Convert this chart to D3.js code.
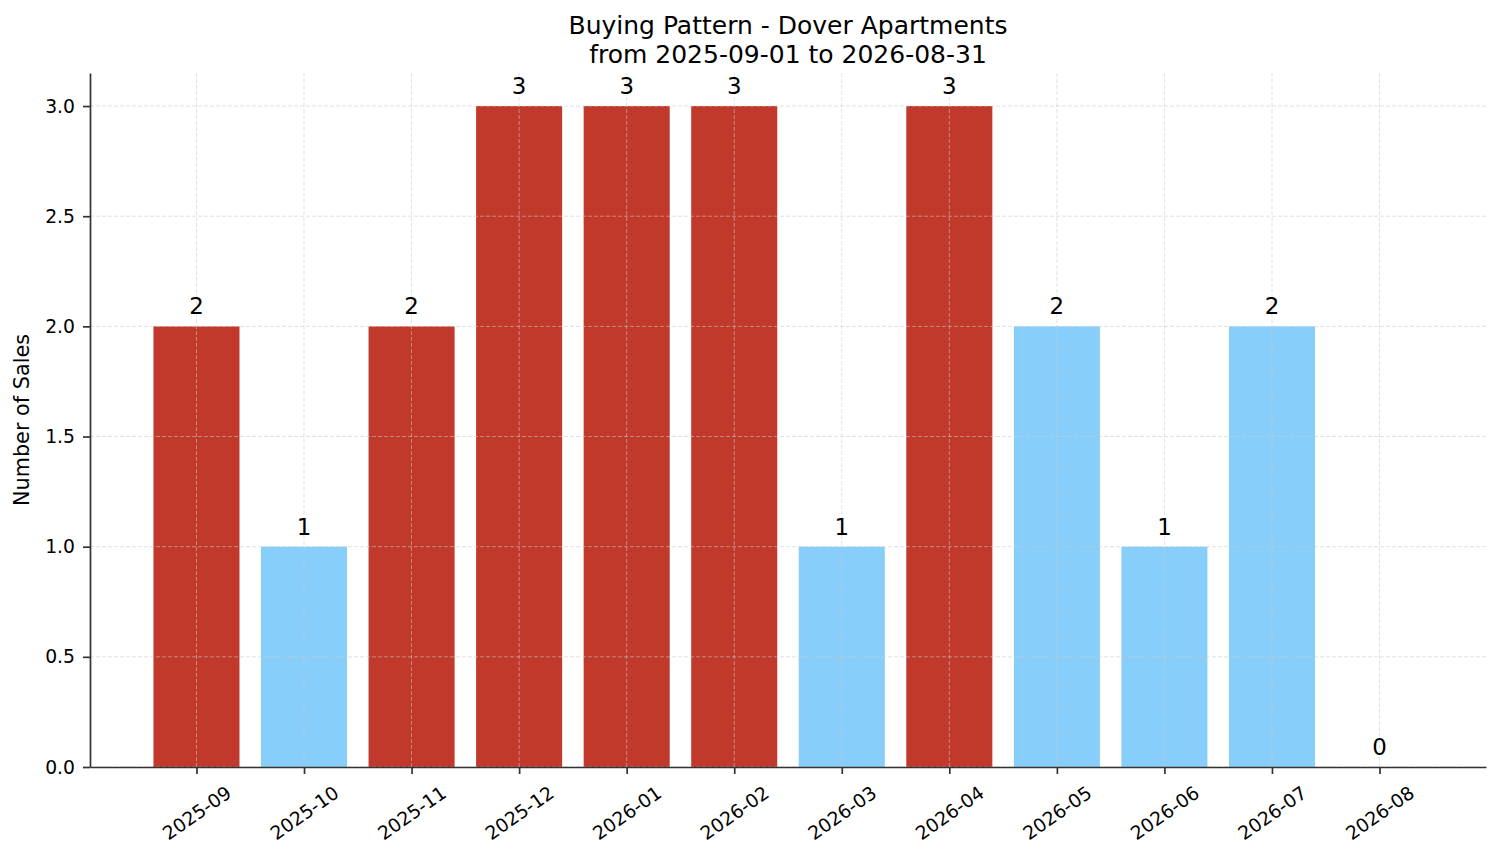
<!DOCTYPE html>
<html>
<head>
<meta charset="utf-8">
<script src="https://cdn.jsdelivr.net/npm/d3@7"></script>
<style>
  body { margin: 0; background: #fff; }
  text { font-family: "DejaVu Sans", sans-serif; fill: #000; }
</style>
</head>
<body>
<div id="chart"></div>
<script>
var months = [
  "2025-09", "2025-10", "2025-11", "2025-12", "2026-01", "2026-02",
  "2026-03", "2026-04", "2026-05", "2026-06", "2026-07", "2026-08",
];
var sales = [2, 1, 2, 3, 3, 3, 1, 3, 2, 1, 2, 0];
// which months are drawn in the highlight colour
var highlighted = [true, false, true, true, true, true, false, true, false, false, false, false];
var yTicks = [0, 0.5, 1, 1.5, 2, 2.5, 3];
var titleLines = ["Buying Pattern - Dover Apartments", "from 2025-09-01 to 2026-08-31"];

function BarChart(params) {
  var attrs = Object.assign(
    {
      width: 1501,
      height: 863,
      margin: { top: 73, left: 90, bottom: 96, right: 15 },
      container: "#chart",
      highColor: "#c0392b",
      lowColor: "#87cefa",
      spineColor: "#333333",
      gridColor: "#cccccc",
    },
    params
  );

  var svg, chart, x, y, chartWidth, chartHeight;

  function main() {
    chartWidth = attrs.width - attrs.margin.left - attrs.margin.right;
    chartHeight = attrs.height - attrs.margin.top - attrs.margin.bottom;

    svg = d3
      .select(attrs.container)
      .append("svg")
      .attr("width", attrs.width)
      .attr("height", attrs.height);

    chart = svg
      .append("g")
      .attr("transform", `translate(${attrs.margin.left}, ${attrs.margin.top})`);

    // bars are 0.8 wide, with 5% padding like matplotlib
    var lo = -0.4, hi = months.length - 1 + 0.4, pad = (hi - lo) * 0.05;
    x = d3.scaleLinear().domain([lo - pad, hi + pad]).range([0, chartWidth]);
    y = d3.scaleLinear().domain([0, d3.max(sales) * 1.05]).range([chartHeight, 0]);

    drawBars();
    drawGrid();
    drawAxes();
    drawTexts();
  }

  function drawBars() {
    chart
      .selectAll("rect.bar")
      .data(sales)
      .join("rect")
      .attr("class", "bar")
      .attr("x", (d, i) => x(i - 0.4))
      .attr("width", x(0.8) - x(0))
      .attr("y", (d) => y(d))
      .attr("height", (d) => y(0) - y(d))
      .attr("fill", (d, i) => (highlighted[i] ? attrs.highColor : attrs.lowColor));
  }

  function drawGrid() {
    var grid = chart.append("g").attr("class", "grid");

    grid
      .selectAll("line.h")
      .data(yTicks)
      .join("line")
      .attr("x1", 0)
      .attr("x2", chartWidth)
      .attr("y1", (d) => y(d))
      .attr("y2", (d) => y(d));

    grid
      .selectAll("line.v")
      .data(months)
      .join("line")
      .attr("x1", (d, i) => x(i))
      .attr("x2", (d, i) => x(i))
      .attr("y1", 0)
      .attr("y2", chartHeight);

    grid
      .selectAll("line")
      .attr("stroke", attrs.gridColor)
      .attr("stroke-width", 0.8)
      .attr("stroke-dasharray", "4,2")
      .attr("opacity", 0.7);
  }

  function drawAxes() {
    var xAxis = chart
      .append("g")
      .attr("transform", `translate(0, ${chartHeight})`)
      .call(
        d3.axisBottom(x)
          .tickValues(d3.range(months.length))
          .tickFormat((i) => months[i])
          .tickSize(7)
          .tickSizeOuter(0)
      );

    xAxis
      .selectAll(".tick text")
      .attr("font-size", "18.75px")
      .attr("y", 0)
      .attr("dy", null)
      .attr("dominant-baseline", "central")
      .attr("text-anchor", "middle")
      .attr("transform", "translate(0, 46) rotate(-35)");

    var yAxis = chart.append("g").call(
      d3.axisLeft(y)
        .tickValues(yTicks)
        .tickFormat(d3.format(".1f"))
        .tickSize(7)
        .tickSizeOuter(0)
    );

    yAxis.selectAll(".tick text").attr("font-size", "18.75px").attr("x", -15);

    [xAxis, yAxis].forEach((ax) => {
      ax.attr("font-family", null);
      ax.select(".domain").attr("stroke", attrs.spineColor).attr("stroke-width", 1.7);
      ax.selectAll(".tick line").attr("stroke", attrs.spineColor).attr("stroke-width", 1.7);
      ax.selectAll(".tick text").attr("fill", "#000");
    });
  }

  function drawTexts() {
    // value labels above each bar
    chart
      .selectAll("text.value")
      .data(sales)
      .join("text")
      .attr("class", "value")
      .attr("x", (d, i) => x(i))
      .attr("y", (d) => y(d) - 12)
      .attr("text-anchor", "middle")
      .attr("font-size", "22.9px")
      .text((d) => d);

    svg
      .append("text")
      .attr("transform", `translate(29, ${attrs.margin.top + chartHeight / 2}) rotate(-90)`)
      .attr("text-anchor", "middle")
      .attr("font-size", "20.8px")
      .text("Number of Sales");

    svg
      .append("g")
      .selectAll("text")
      .data(titleLines)
      .join("text")
      .attr("x", attrs.margin.left + chartWidth / 2)
      .attr("y", (d, i) => 34 + i * 29)
      .attr("text-anchor", "middle")
      .attr("font-size", "25px")
      .text((d) => d);
  }

  main.render = function () {
    main();
    return main;
  };

  return main;
}

BarChart().render();
</script>
</body>
</html>
